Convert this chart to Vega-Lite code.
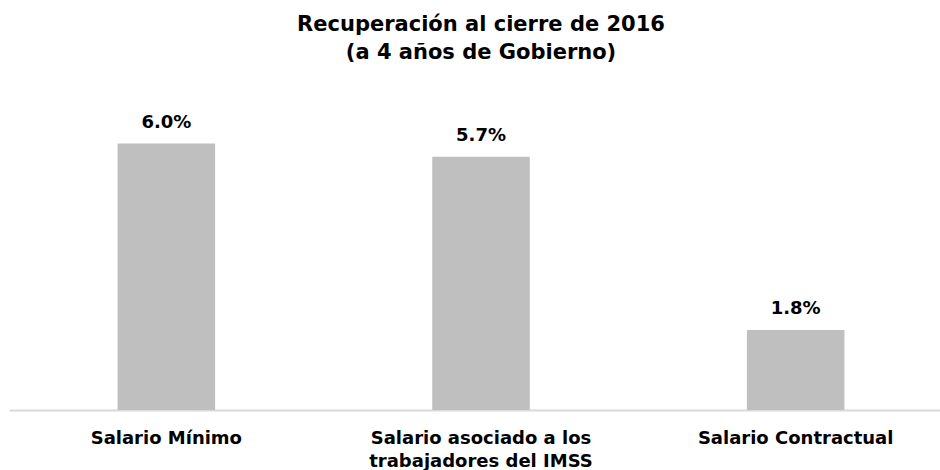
{
  "$schema": "https://vega.github.io/schema/vega-lite/v6.json",
  "autosize": "none",
  "width": 944,
  "height": 330,
  "padding": {"top": 80, "left": 9, "right": 0, "bottom": 60},
  "background": "white",
  "title": {
    "text": ["Recuperación al cierre de 2016", "(a 4 años de Gobierno)"],
    "font": "DejaVu Sans",
    "fontSize": 21,
    "fontWeight": "bold",
    "color": "#000000",
    "lineHeight": 28,
    "anchor": "middle",
    "frame": "group",
    "offset": 17
  },
  "data": {
    "values": [
      {"categoria": "Salario Mínimo", "valor": 0.060},
      {"categoria": "Salario asociado a los trabajadores del IMSS", "valor": 0.057},
      {"categoria": "Salario Contractual", "valor": 0.018}
    ]
  },
  "encoding": {
    "x": {
      "field": "categoria",
      "type": "nominal",
      "sort": null,
      "scale": {"paddingInner": 0.69, "paddingOuter": 0.345},
      "axis": {
        "title": null,
        "labelAngle": 0,
        "ticks": false,
        "domainColor": "#D9D9D9",
        "domainWidth": 2,
        "labelFont": "DejaVu Sans",
        "labelFontSize": 18,
        "labelFontWeight": "bold",
        "labelColor": "#000000",
        "labelPadding": 19,
        "labelLimit": 500,
        "labelLineHeight": 23,
        "labelExpr": "datum.label == 'Salario asociado a los trabajadores del IMSS' ? ['Salario asociado a los', 'trabajadores del IMSS'] : datum.label"
      }
    },
    "y": {
      "field": "valor",
      "type": "quantitative",
      "scale": {"domain": [0, 0.0743], "nice": false, "zero": true},
      "axis": null
    }
  },
  "layer": [
    {"mark": {"type": "bar", "color": "#BFBFBF"}},
    {
      "mark": {
        "type": "text",
        "font": "DejaVu Sans",
        "fontSize": 18,
        "fontWeight": "bold",
        "color": "#000000",
        "baseline": "alphabetic",
        "dy": -16
      },
      "encoding": {
        "text": {"field": "valor", "type": "quantitative", "format": ".1%"}
      }
    }
  ],
  "config": {"view": {"stroke": null}}
}
